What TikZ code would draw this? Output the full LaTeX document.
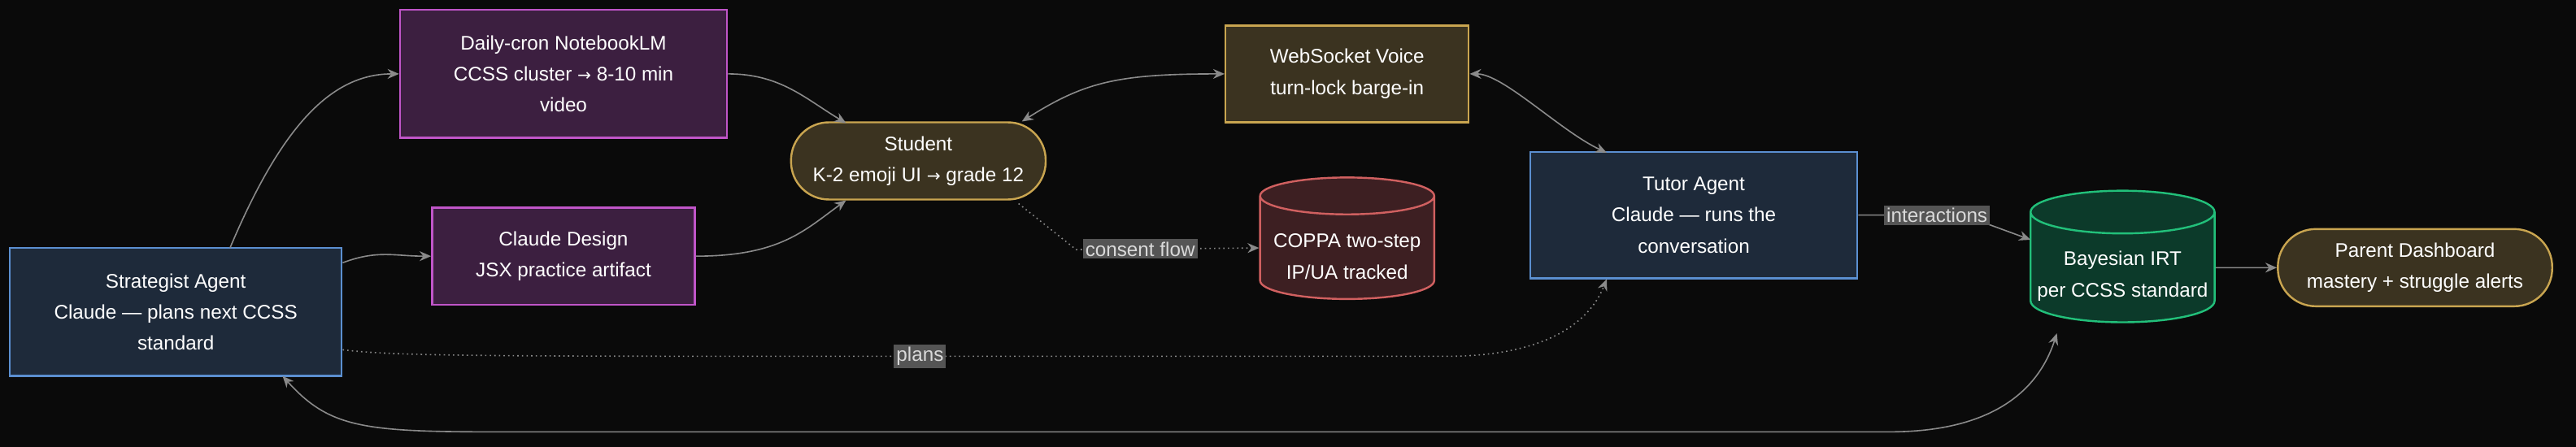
\documentclass[tikz,border=0pt]{standalone}
\usepackage{fontspec}
\setmainfont{Liberation Sans}
\newfontfamily\arr{DejaVu Sans}
\newcommand{\ra}{{\arr\fontsize{10}{10}\selectfont →}}
\usetikzlibrary{shapes.geometric,arrows.meta}
\definecolor{bg}{HTML}{0A0A0A}
\definecolor{edge}{HTML}{8A8A8A}
\definecolor{bluef}{HTML}{1E2A3A}\definecolor{bluel}{HTML}{5B8FD0}
\definecolor{purf}{HTML}{3C1F40}\definecolor{purl}{HTML}{C055C8}
\definecolor{goldf}{HTML}{3B3320}\definecolor{goldl}{HTML}{C9A550}
\definecolor{redf}{HTML}{3D1F22}\definecolor{redl}{HTML}{D06060}
\definecolor{grnf}{HTML}{0C3A2A}\definecolor{grnl}{HTML}{22C07A}
\definecolor{lab}{HTML}{555555}
\begin{document}
\begin{tikzpicture}[x=1pt,y=-1pt,
  base/.style={font=\fontsize{12}{19}\selectfont,text=white,align=center,line width=1.2pt,inner sep=0pt},
  blue/.style={base,draw=bluel,fill=bluef,minimum width=202pt,minimum height=78pt},
  pur/.style={base,draw=purl,fill=purf},
  gold/.style={base,draw=goldl,fill=goldf},
  stad/.style={gold,rounded corners=23pt,minimum height=47pt},
  cyl/.style={base,cylinder,shape border rotate=90,aspect=0.25},
  e/.style={draw=edge,line width=0.8pt,-{Stealth[length=7pt,width=6pt]}},
  ee/.style={e,{Stealth[length=7pt,width=6pt]}-{Stealth[length=7pt,width=6pt]}},
  dot/.style={e,dotted},
  lbl/.style={fill=lab,text=white!85!black,font=\fontsize{12}{14}\selectfont,inner sep=1.5pt}]
\fill[bg] (0,0) rectangle (1568,272.2);
\node[blue] (strat) at (107,190) {Strategist Agent\\Claude — plans next CCSS\\standard};
\node[pur,minimum width=199pt,minimum height=78pt] (cron) at (343,45) {Daily-cron NotebookLM\\CCSS cluster \ra{} 8-10 min\\video};
\node[pur,minimum width=160pt,minimum height=59pt] (design) at (343,156) {Claude Design\\JSX practice artifact};
\node[stad,minimum width=155pt] (student) at (559,98) {Student\\K-2 emoji UI \ra{} grade 12};
\node[gold,minimum width=148pt,minimum height=59pt] (ws) at (820,45) {WebSocket Voice\\turn-lock barge-in};
\node[cyl,draw=redl,fill=redf,minimum width=106pt,minimum height=74pt] (coppa) at (820,151) {\\COPPA two-step\\IP/UA tracked};
\node[blue,minimum width=199pt,minimum height=77pt] (tutor) at (1031,131) {Tutor Agent\\Claude — runs the\\conversation};
\node[cyl,draw=grnl,fill=grnf,minimum width=112pt,minimum height=78pt] (irt) at (1292,163) {\\Bayesian IRT\\per CCSS standard};
\node[stad,minimum width=167pt] (parent) at (1470,163) {Parent Dashboard\\mastery + struggle alerts};
\coordinate (p1) at (140,151);
\coordinate (c1) at (620,124);
\coordinate (c2) at (655,152);
\coordinate (i1) at (1195,131);
\draw[e] (p1) .. controls (170,80) and (200,45) .. (cron.west);
\draw[e] (strat.east|-0,160) .. controls (230,152) and (240,156) .. (design.west);
\draw[e] (cron.east) .. controls (475,45) and (490,60) .. (515,75);
\draw[e] (design.east) .. controls (475,156) and (490,140) .. (515,122);
\draw[ee] (622,74) .. controls (660,50) and (680,45) .. (ws.west);
\draw[ee] (ws.east) .. controls (915,45) and (950,80) .. (978,93);
\draw[dot] (c1) .. controls (640,140) .. (c2) -- node[lbl,pos=0.35]{consent flow} (coppa.west);
\draw[dot] (strat.east|-0,213) .. controls (240,217) and (300,217) .. (560,217) node[lbl]{plans} -- (880,217) .. controls (950,217) and (970,190) .. (978,170);
\draw[e] (tutor.east) -- node[lbl,pos=0.75]{interactions} (i1) -- (1236,146);
\draw[e] (irt.east) -- (parent.west);
\draw[ee] (172,229) .. controls (200,260) and (220,263) .. (300,263) -- (1150,263) .. controls (1210,263) and (1240,240) .. (1252,203);
\end{tikzpicture}
\end{document}
